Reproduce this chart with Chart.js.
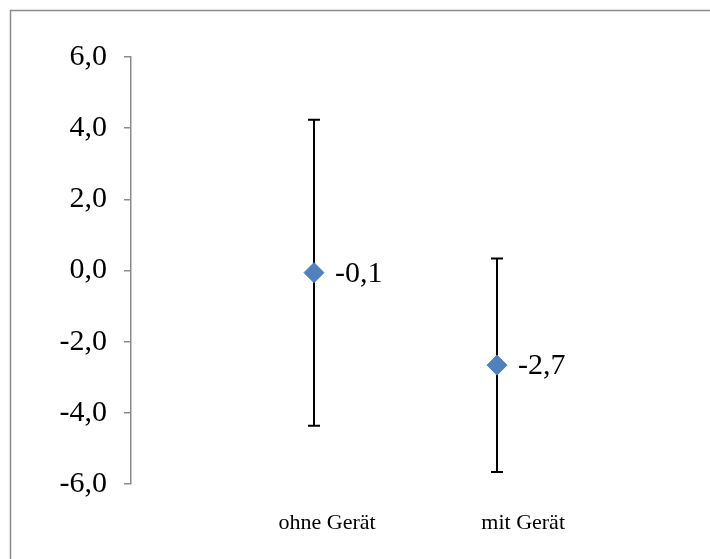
<!DOCTYPE html>
<html>
<head>
<meta charset="utf-8">
<script src="https://cdn.jsdelivr.net/npm/chart.js@4/dist/chart.umd.min.js"></script>
<style>
  html, body { margin: 0; padding: 0; background: #fff; }
  canvas { display: block; }
</style>
</head>
<body>
<canvas id="chart" width="710" height="559"></canvas>
<script>
const categories = ['ohne Gerät', 'mit Gerät'];
const means = [-0.06, -2.66];
const errors = [4.3, 3.0];
const yTicks = [-6, -4, -2, 0, 2, 4, 6];

const fmt = v => v.toFixed(1).replace('.', ',');
const serif = '"Liberation Serif", "DejaVu Serif", serif';

// outer frame (only top and left edges are in view)
const framePlugin = {
  id: 'frame',
  beforeDraw(chart) {
    const ctx = chart.ctx;
    ctx.save();
    ctx.strokeStyle = '#8c8c8c';
    ctx.lineWidth = 1.5;
    ctx.beginPath();
    ctx.moveTo(10.5, 570);
    ctx.lineTo(10.5, 10.5);
    ctx.lineTo(720, 10.5);
    ctx.stroke();
    ctx.restore();
  }
};

// error bars behind the markers, value labels on top
const errorBarPlugin = {
  id: 'errorBars',
  beforeDatasetsDraw(chart) {
    const ctx = chart.ctx;
    const xs = chart.scales.x, ys = chart.scales.y;
    ctx.save();
    ctx.strokeStyle = '#000';
    ctx.lineWidth = 2;
    means.forEach((m, i) => {
      const px = xs.getPixelForValue(i + 1);
      const top = ys.getPixelForValue(m + errors[i]);
      const bot = ys.getPixelForValue(m - errors[i]);
      ctx.beginPath();
      ctx.moveTo(px, top); ctx.lineTo(px, bot);
      ctx.moveTo(px - 6, top); ctx.lineTo(px + 6, top);
      ctx.moveTo(px - 6, bot); ctx.lineTo(px + 6, bot);
      ctx.stroke();
    });
    ctx.restore();
  },
  afterDatasetsDraw(chart) {
    const ctx = chart.ctx;
    const xs = chart.scales.x, ys = chart.scales.y;
    ctx.save();
    ctx.fillStyle = '#000';
    ctx.font = '30px ' + serif;
    ctx.textAlign = 'left';
    ctx.textBaseline = 'middle';
    means.forEach((m, i) => {
      ctx.fillText(fmt(m), xs.getPixelForValue(i + 1) + 21, ys.getPixelForValue(m) + 1);
    });
    ctx.restore();
  }
};

new Chart(document.getElementById('chart'), {
  type: 'scatter',
  data: {
    datasets: [{
      data: means.map((m, i) => ({ x: i + 1, y: m })),
      pointStyle: 'rectRot',
      pointRadius: 10,
      pointHoverRadius: 10,
      backgroundColor: '#4F81BD',
      borderColor: '#4F81BD',
      borderWidth: 1
    }]
  },
  options: {
    responsive: false,
    animation: false,
    events: [],
    layout: { padding: { top: 57, right: 30, bottom: 0, left: 0 } },
    plugins: { legend: { display: false }, tooltip: { enabled: false } },
    scales: {
      x: {
        type: 'linear', min: 0, max: 3, display: false
      },
      x2: {
        type: 'linear', position: 'bottom', min: 0, max: 2.8,
        border: { display: false },
        grid: { display: false, drawTicks: false },
        afterBuildTicks: s => { s.ticks = categories.map((c, i) => ({ value: i + 1 })); },
        afterFit: s => { s.height = 75; },
        ticks: {
          padding: 26,
          maxRotation: 0,
          color: '#000',
          font: { family: serif, size: 22 },
          callback: v => categories[v - 1]
        }
      },
      y: {
        min: -6, max: 6,
        afterBuildTicks: s => { s.ticks = yTicks.map(v => ({ value: v })); },
        afterFit: s => { s.width = 131; },
        border: { display: true, color: '#8c8c8c', width: 1.5 },
        grid: { drawOnChartArea: false, drawTicks: true, tickLength: 7, color: '#8c8c8c', lineWidth: 1.5 },
        ticks: {
          padding: 17,
          color: '#000',
          font: { family: serif, size: 30 },
          callback: v => fmt(v)
        }
      }
    }
  },
  plugins: [framePlugin, errorBarPlugin]
});
</script>
</body>
</html>
